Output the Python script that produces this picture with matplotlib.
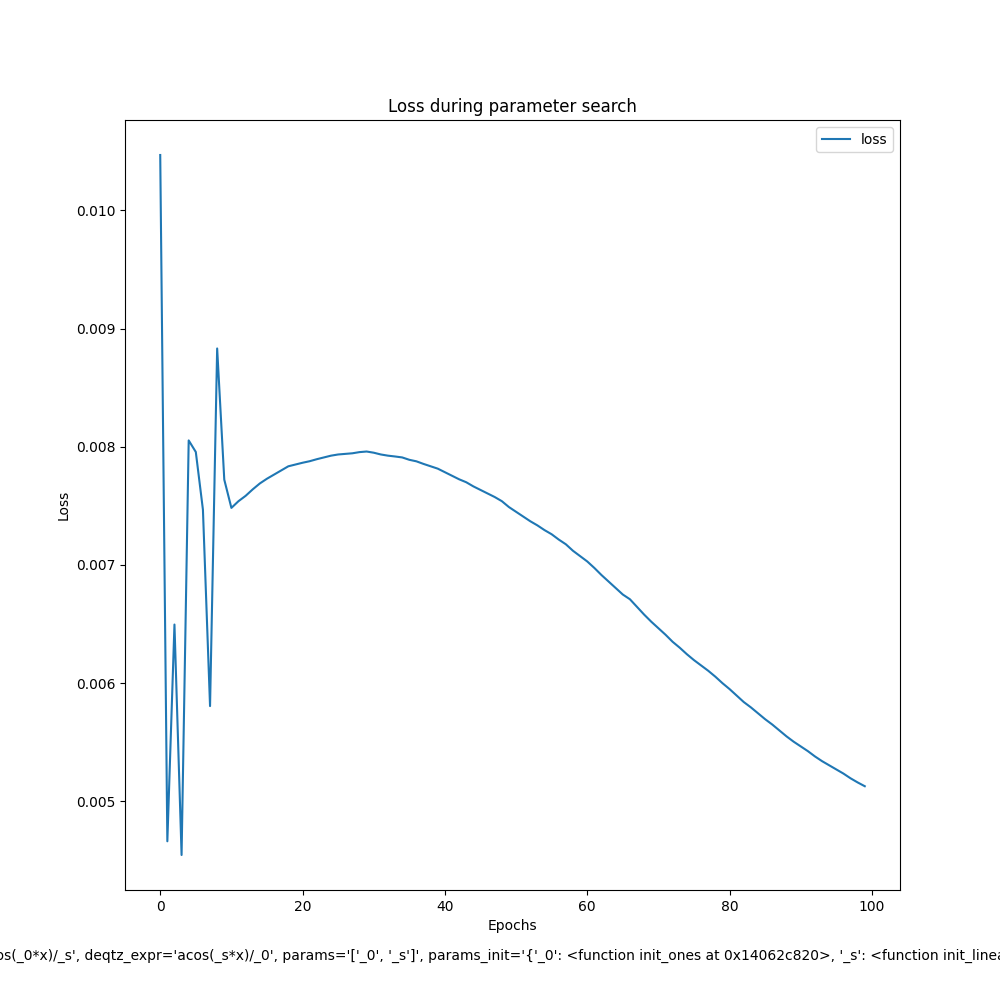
import matplotlib
matplotlib.use('Agg')
import matplotlib.pyplot as plt

epochs = list(range(100))
loss = [
    0.010469, 0.004662, 0.006496, 0.004546, 0.008054, 0.007956, 0.007468, 0.005806, 0.008832, 0.007722,
    0.007483, 0.007540, 0.007585, 0.007640, 0.007690, 0.007730, 0.007765, 0.007800, 0.007835, 0.007850,
    0.007865, 0.007878, 0.007895, 0.007910, 0.007925, 0.007935, 0.007940, 0.007945, 0.007955, 0.007960,
    0.007950, 0.007935, 0.007925, 0.007918, 0.007910, 0.007890, 0.007877, 0.007855, 0.007835, 0.007815,
    0.007785, 0.007755, 0.007725, 0.007700, 0.007665, 0.007635, 0.007605, 0.007575, 0.007540, 0.007490,
    0.007450, 0.007410, 0.007370, 0.007335, 0.007295, 0.007260, 0.007215, 0.007175, 0.007120, 0.007075,
    0.007030, 0.006975, 0.006915, 0.006860, 0.006805, 0.006750, 0.006710, 0.006645, 0.006580, 0.006520,
    0.006465, 0.006410, 0.006350, 0.006300, 0.006245, 0.006195, 0.006150, 0.006105, 0.006055, 0.006000,
    0.005950, 0.005895, 0.005840, 0.005795, 0.005745, 0.005695, 0.005650, 0.005600, 0.005550, 0.005505,
    0.005465, 0.005425, 0.005380, 0.005340, 0.005305, 0.005270, 0.005235, 0.005195, 0.005160, 0.005128,
]

params_text = ("Params(qntz_expr='cos(_0*x)/_s', deqtz_expr='acos(_s*x)/_0', params='['_0', '_s']', "
               "params_init='{'_0': <function init_ones at 0x14062c820>, '_s': <function init_linear at 0x14062c8b0>}'")

fig, ax = plt.subplots(figsize=(10, 10), dpi=100)
ax.plot(epochs, loss, label='loss')
ax.set_title('Loss during parameter search')
ax.set_xlabel('Epochs')
ax.set_ylabel('Loss')
ax.legend()
fig.text(0.5, 0.04, params_text, ha='center')

plt.savefig('out.png')
